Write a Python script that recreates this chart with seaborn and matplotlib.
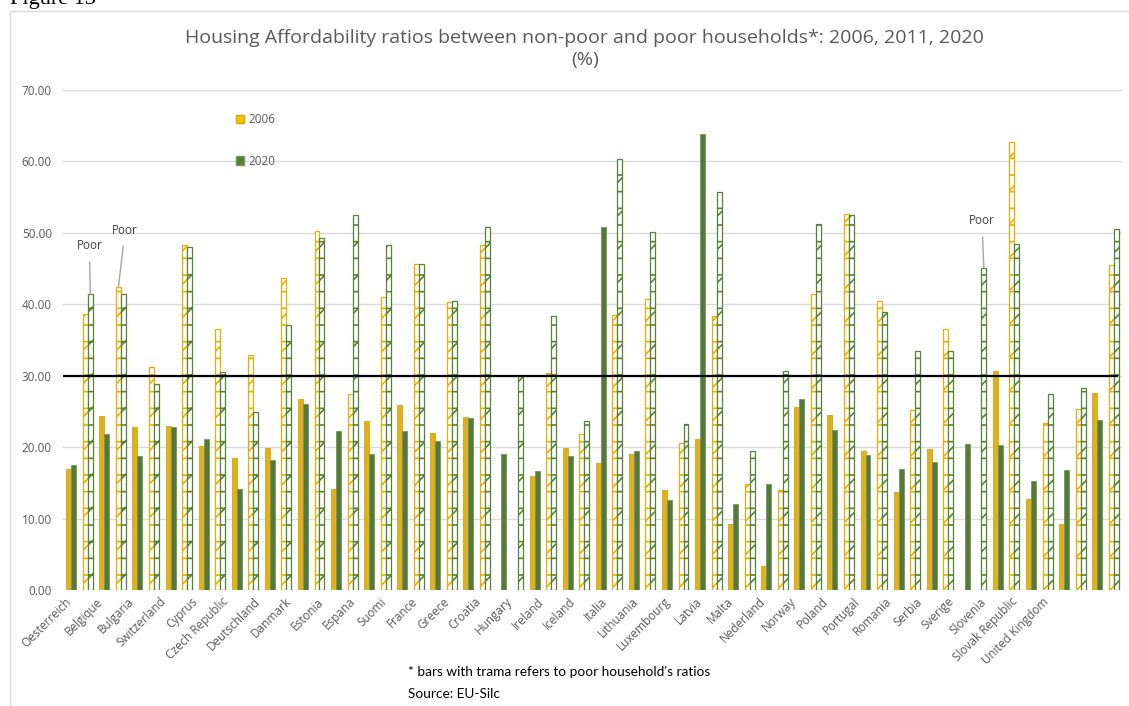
import numpy as np
import pandas as pd
import matplotlib
matplotlib.use("Agg")
import matplotlib.pyplot as plt
from matplotlib.patches import Patch, Rectangle
import seaborn as sns

# ---------- data ----------
countries = ["Oesterreich", "Belgique", "Bulgaria", "Switzerland", "Cyprus",
             "Czech Republic", "Deutschland", "Danmark", "Estonia", "Espana",
             "Suomi", "France", "Greece", "Croatia", "Hungary", "Ireland",
             "Iceland", "Italia", "Lithuania", "Luxembourg", "Latvia", "Malta",
             "Nederland", "Norway", "Poland", "Portugal", "Romania", "Serbia",
             "Sverige", "Slovenia", "Slovak Republic", "United Kingdom"]
nan = np.nan
nonpoor_2006 = [17.0, 24.3, 22.8, 23.0, 20.1, 18.5, 19.9, 26.7, 14.2, 23.6,
                25.9, 22.0, 24.2, nan, 15.9, 19.9, 17.8, 19.1, 14.0, 21.1,
                9.2, 3.3, 25.6, 24.5, 19.4, 13.7, 19.7, nan, 30.6, 12.7, 9.2, 27.6]
nonpoor_2020 = [17.5, 21.8, 18.7, 22.8, 21.2, 14.1, 18.2, 26.1, 22.2, 19.0,
                22.2, 20.8, 24.1, 19.1, 16.7, 18.7, 50.8, 19.4, 12.6, 63.9,
                12.0, 14.8, 26.8, 22.4, 18.9, 17.0, 17.9, 20.5, 20.3, 15.3, 16.8, 23.8]
poor_2006 = [38.6, 42.4, 31.2, 48.3, 36.6, 32.9, 43.7, 50.2, 27.4, 41.0,
             45.7, 40.3, 48.3, nan, 30.4, 21.8, 38.5, 40.7, 20.6, 38.4,
             14.8, 14.0, 41.5, 52.6, 40.5, 25.2, 36.5, nan, 62.7, 23.4, 25.3, 45.5]
poor_2020 = [41.4, 41.5, 28.9, 48.0, 30.5, 24.9, 37.1, 49.3, 52.5, 48.3,
             45.7, 40.5, 50.8, 29.9, 38.4, 23.6, 60.4, 50.1, 23.3, 55.7,
             19.4, 30.6, 51.3, 52.5, 38.9, 33.5, 33.5, 45.1, 48.5, 27.5, 28.3, 50.5]
years = ["2006", "2020"]
threshold = 30

# long table: each country gets a non-poor slot and a poor slot
rows = []
for i, c in enumerate(countries):
    rows.append((c + " np", "2006", nonpoor_2006[i]))
    rows.append((c + " np", "2020", nonpoor_2020[i]))
    rows.append((c + " poor", "2006", poor_2006[i]))
    rows.append((c + " poor", "2020", poor_2020[i]))
df = pd.DataFrame(rows, columns=["slot", "year", "value"])
slot_order = [c + s for c in countries for s in (" np", " poor")]

# ---------- style ----------
ORANGE, ORANGE_E = "#ffc000", "#dba400"
GREEN, GREEN_E = "#548235", "#6f9a52"
GRAY = "#595959"
plt.rcParams["font.family"] = ["Open Sans", "DejaVu Sans"]
plt.rcParams["hatch.linewidth"] = 1.2

fig = plt.figure(figsize=(11.29, 7.06), dpi=100)
ax = fig.add_axes([63 / 1129, 1 - 590 / 706, 1059 / 1129, 500 / 706])

sns.barplot(data=df, x="slot", y="value", hue="year", order=slot_order,
            hue_order=years, palette=[ORANGE, GREEN], width=0.6, gap=0,
            errorbar=None, legend=False, ax=ax)

# restyle bars: poor slots get white fill with patterned outline
for p in list(ax.patches):
    h = p.get_height()
    if h is None or np.isnan(h) or h == 0:
        p.set_visible(False)
        continue
    cx = p.get_x() + p.get_width() / 2
    slot = int(round(cx))
    is_2006 = cx < slot
    edge = ORANGE_E if is_2006 else GREEN_E
    if slot % 2 == 1:
        col = "#e8ad00" if is_2006 else GREEN
        p.set_facecolor("white")
        p.set_edgecolor(col)
        p.set_hatch("/-")
        p.set_linewidth(0.9)
    else:
        p.set_edgecolor(edge)
        p.set_linewidth(0.6)

ax.axhline(threshold, xmin=0, xmax=0.995, color="black", lw=1.6, zorder=5)

ax.set_ylim(0, 70)
ax.set_xlim(-0.5, len(slot_order) - 0.5)
ax.set_yticks(np.arange(0, 71, 10))
ax.set_yticklabels([f"{v:.2f}" for v in np.arange(0, 71, 10)],
                   color=GRAY, fontsize=8.5)
ax.yaxis.grid(True, color="#d9d9d9", lw=1)
ax.set_axisbelow(True)
for s in ax.spines.values():
    s.set_visible(False)
ax.tick_params(axis="both", length=0)
ax.tick_params(axis="y", pad=8)

# country labels (spaced a bit tighter than the bar groups, as in the source)
label_pos = -0.14 + 1.9067 * np.arange(len(countries))
ax.set_xticks(label_pos)
ax.set_xticklabels(countries, rotation=45, ha="right", va="center",
                   rotation_mode="anchor", color=GRAY, fontsize=8.5)
ax.tick_params(axis="x", pad=7)
ax.set_xlabel("")
ax.set_ylabel("")

# "Poor" call-outs
callouts = [(1.15, poor_2020[0], -0.7, 35), (2.85, poor_2006[1], 4.8, 41),
            (55.15, poor_2020[27], -1.4, 34)]
for x, y, dx, dy in callouts:
    ax.annotate("Poor", xy=(x, y), xytext=(dx, dy), textcoords="offset points",
                ha="center", va="center", fontsize=8.5, color="#404040",
                arrowprops=dict(arrowstyle="-", color="#a6a6a6", lw=1,
                                shrinkA=5, shrinkB=0))

handles = [Patch(facecolor=ORANGE, edgecolor=ORANGE_E),
           Patch(facecolor=GREEN, edgecolor=GREEN_E)]
leg = ax.legend(handles, years, loc="center left", bbox_to_anchor=(0.153, 0.899),
                frameon=False, fontsize=8.5, handlelength=0.7, handleheight=0.7,
                handletextpad=0.4, labelspacing=2.4)
for t in leg.get_texts():
    t.set_color(GRAY)

fig.text(0.518, 1 - 49 / 706,
         "Housing Affordability ratios between non-poor and poor households*: 2006, 2011, 2020\n(%)",
         ha="center", va="center", fontsize=14, color=GRAY, linespacing=1.25)

fig.text(408 / 1129, 1 - 672 / 706,
         "* bars with trama refers to poor household's ratios",
         fontsize=9.8, family=["Lato", "DejaVu Sans"], va="center")
fig.text(408 / 1129, 1 - 694 / 706, "Source: EU-Silc",
         fontsize=9.8, family=["Lato", "DejaVu Sans"], va="center")

fig.text(10 / 1129, 1 - 4 / 706, "Figure 13", fontsize=16,
         family=["Liberation Serif", "DejaVu Serif"], va="baseline")

fig.patches.append(Rectangle((10 / 1129, -0.05), 1.2, 0.05 + 695 / 706,
                             transform=fig.transFigure, fill=False,
                             edgecolor="#d9d9d9", lw=1))

fig.savefig("out.png", dpi=100)
